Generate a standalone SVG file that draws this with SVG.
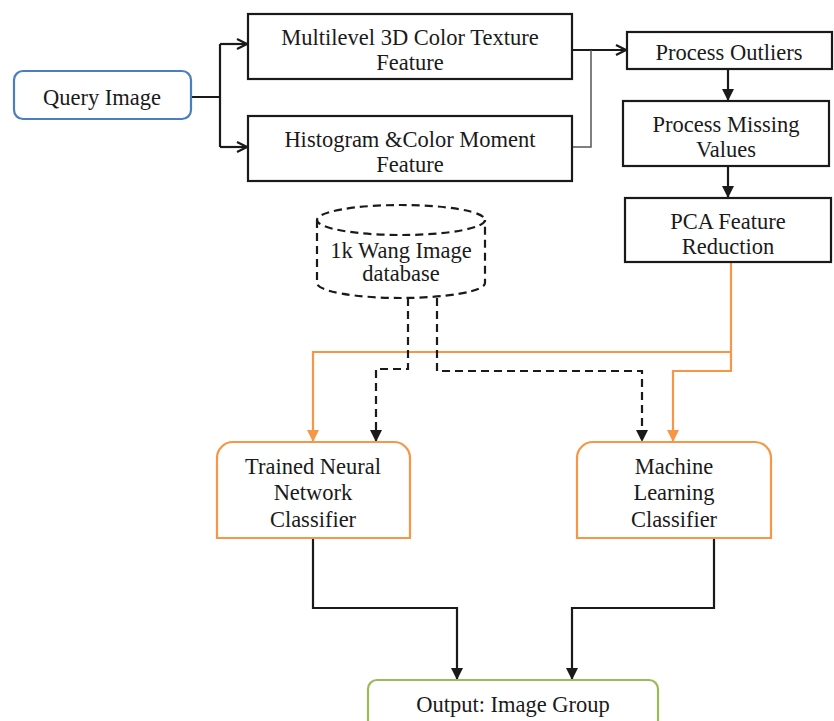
<svg xmlns="http://www.w3.org/2000/svg" width="834" height="721" viewBox="0 0 834 721">
<style>
text{font-family:"Liberation Serif","Times New Roman",serif;font-size:22.5px;fill:#1a1a1a;text-anchor:middle}
.box{fill:#fff;stroke:#1a1a1a;stroke-width:2.2}
.ln{fill:none;stroke:#1a1a1a;stroke-width:2.2}
.or{fill:none;stroke:#f79646;stroke-width:2.2}
.ds{fill:none;stroke:#1a1a1a;stroke-width:2.2;stroke-dasharray:8 5}
</style>
<defs>
<marker id="open" viewBox="0 0 12 12" refX="11" refY="6" markerWidth="12" markerHeight="12" markerUnits="userSpaceOnUse" orient="auto"><path d="M1,1 L11,6 L1,11" fill="none" stroke="#1a1a1a" stroke-width="2.2"/></marker>
<marker id="fill" viewBox="0 0 12 12" refX="11" refY="6" markerWidth="12" markerHeight="12" markerUnits="userSpaceOnUse" orient="auto"><path d="M0,0 L12,6 L0,12 Z" fill="#1a1a1a"/></marker>
<marker id="ofill" viewBox="0 0 12 12" refX="11" refY="6" markerWidth="12" markerHeight="12" markerUnits="userSpaceOnUse" orient="auto"><path d="M0,0 L12,6 L0,12 Z" fill="#f79646"/></marker>
</defs>
<g id="connectors">
<path class="ln" d="M191,97 H220 M220,44 V147"/>
<path class="ln" d="M220,44 H247" marker-end="url(#open)"/>
<path class="ln" d="M220,147 H247" marker-end="url(#open)"/>
<path class="ln" d="M572,50 H626" marker-end="url(#open)"/>
<path fill="none" stroke="#555" stroke-width="1.5" d="M572,147 H591 V50"/>
<path class="ln" d="M728,69 V100" marker-end="url(#fill)"/>
<path class="ln" d="M728,166 V197" marker-end="url(#fill)"/>
<path class="or" d="M731,262 V371 H673 V441" marker-end="url(#ofill)"/>
<path class="or" d="M731,352 H313 V441" marker-end="url(#ofill)"/>
<path class="ds" d="M408,298 V369 H376 V441" marker-end="url(#fill)"/>
<path class="ds" d="M437,298 V371 H642 V441" marker-end="url(#fill)"/>
<path class="ln" d="M313,538 V608 H457 V679" marker-end="url(#fill)"/>
<path class="ln" d="M714,538 V608 H572 V679" marker-end="url(#fill)"/>
</g>
<g id="query"><rect x="14" y="71" width="177" height="48" rx="9" fill="#fff" stroke="#4a7ebf" stroke-width="2.2"/><text x="102" y="105">Query Image</text></g>
<g id="multilevel"><rect class="box" x="248" y="14" width="324" height="65"/><text x="410" y="45">Multilevel 3D Color Texture</text><text x="410" y="70">Feature</text></g>
<g id="histogram"><rect class="box" x="248" y="116" width="324" height="65"/><text x="410" y="147">Histogram &amp;Color Moment</text><text x="410" y="172">Feature</text></g>
<g id="outliers"><rect class="box" x="627" y="32" width="205" height="37"/><text x="729" y="60">Process Outliers</text></g>
<g id="missing"><rect class="box" x="623" y="101" width="206" height="65"/><text x="726" y="132">Process Missing</text><text x="726" y="157">Values</text></g>
<g id="pca"><rect class="box" x="625" y="198" width="206" height="64"/><text x="728" y="229">PCA Feature</text><text x="728" y="254">Reduction</text></g>
<g id="database">
<path class="ds" fill="#fff" d="M317,220 V283 A84,15 0 0 0 485,283 V220"/>
<ellipse class="ds" cx="401" cy="220" rx="84" ry="15"/>
<text x="401" y="258" font-size="19">1k Wang Image</text><text x="401" y="281" font-size="19">database</text>
</g>
<g id="neural"><path d="M217,538 V458 A16,16 0 0 1 233,442 H394 A16,16 0 0 1 410,458 V538 Z" fill="#fff" stroke="#f79646" stroke-width="2.2"/><text x="313" y="474">Trained Neural</text><text x="313" y="500">Network</text><text x="313" y="527">Classifier</text></g>
<g id="ml"><path d="M577,538 V458 A16,16 0 0 1 593,442 H755 A16,16 0 0 1 771,458 V538 Z" fill="#fff" stroke="#f79646" stroke-width="2.2"/><text x="674" y="474">Machine</text><text x="674" y="500">Learning</text><text x="674" y="527">Classifier</text></g>
<g id="output"><rect x="368" y="680" width="290" height="60" rx="9" fill="#fff" stroke="#9bbb59" stroke-width="2.2"/><text x="513" y="712">Output: Image Group</text></g>
</svg>
